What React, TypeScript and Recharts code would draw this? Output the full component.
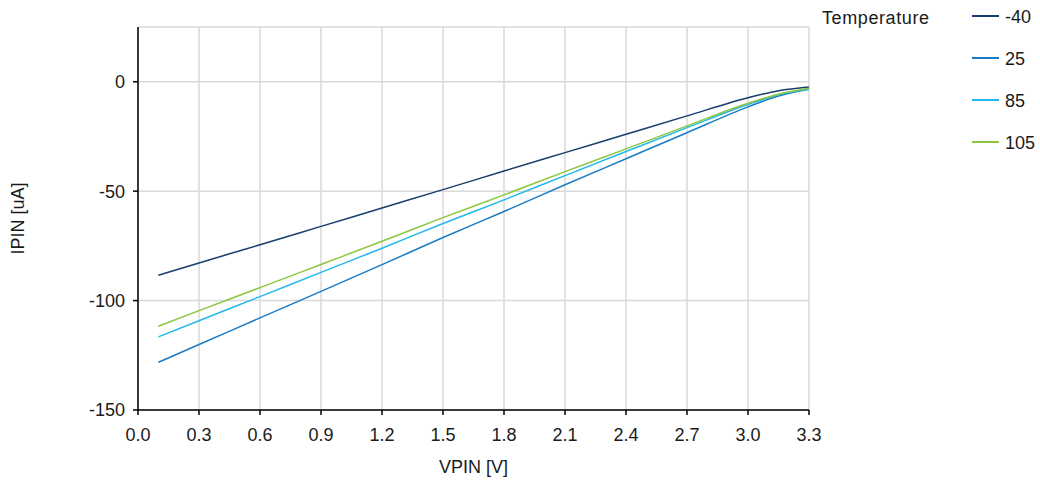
import { LineChart, Line, XAxis, YAxis, CartesianGrid, Legend } from "recharts";

// VPIN sweep [V]
const vpin = [0.1, 0.3, 0.6, 0.9, 1.2, 1.5, 1.8, 2.1, 2.4, 2.7, 3.0, 3.15, 3.3];

// IPIN [uA] per temperature
const ipinM40 = [-88.4, -82.8, -74.5, -66.1, -57.7, -49.3, -40.8, -32.4, -24.0, -15.6, -7.3, -4.1, -2.4];
const ipin25 = [-128.2, -120.1, -107.9, -95.8, -83.6, -71.2, -59.3, -47.1, -35.2, -23.3, -11.5, -6.5, -3.4];
const ipin85 = [-116.6, -109.2, -98.2, -87.1, -76.1, -64.8, -54.0, -42.9, -31.9, -21.0, -10.4, -6.0, -3.3];
const ipin105 = [-111.7, -104.6, -94.1, -83.5, -72.9, -62.1, -51.7, -41.1, -30.7, -20.2, -9.8, -5.7, -3.0];

const xTicks = [0, 0.3, 0.6, 0.9, 1.2, 1.5, 1.8, 2.1, 2.4, 2.7, 3.0, 3.3];
const yTicks = [-150, -100, -50, 0];

const SERIES = [
  { key: "t_m40", name: "-40", values: ipinM40, color: "#173d6c" },
  { key: "t_25", name: "25", values: ipin25, color: "#1a7bc4" },
  { key: "t_85", name: "85", values: ipin85, color: "#22b8ec" },
  { key: "t_105", name: "105", values: ipin105, color: "#8cc63f" },
];

const data = vpin.map((v, i) => {
  const row: Record<string, number> = { v };
  SERIES.forEach((s) => (row[s.key] = s.values[i]));
  return row;
});

const TEXT = "#1a1a1a";
const FS = 18;

function TempLegend() {
  return (
    <div style={{ position: "relative", width: 220, height: 160, fontSize: FS, color: TEXT }}>
      <div style={{ position: "absolute", left: 2, top: 8, lineHeight: "20px", letterSpacing: 0.6 }}>Temperature</div>
      {SERIES.map((s, i) => (
        <div key={s.key} style={{ position: "absolute", left: 152, top: 16 + i * 42 - 10, height: 20, display: "flex", alignItems: "center" }}>
          <div style={{ width: 27, height: 2, background: s.color }} />
          <span style={{ marginLeft: 6, lineHeight: "20px", position: "relative", top: 1 }}>{s.name}</span>
        </div>
      ))}
    </div>
  );
}

export default function App() {
  return (
    <div style={{ position: "absolute", left: 0, top: 0, fontFamily: "'Liberation Sans', Arial, sans-serif" }}>
      <LineChart width={1040} height={482} data={data} margin={{ top: 27, right: 11, bottom: 12, left: 18 }}>
        <CartesianGrid stroke="#d9d9d9" strokeWidth={1.5} />
        <XAxis
          dataKey="v"
          type="number"
          domain={[0, 3.3]}
          ticks={xTicks}
          tickFormatter={(v: number) => v.toFixed(1)}
          height={60}
          tickSize={5}
          tickMargin={13}
          stroke="#000"
          strokeWidth={1.5}
          tick={{ fontSize: FS, fill: TEXT }}
          label={{ value: "VPIN [V]", position: "insideBottom", offset: -3, fontSize: FS, fill: TEXT }}
        />
        <YAxis
          type="number"
          domain={[-150, 25]}
          ticks={yTicks}
          width={120}
          tickSize={5}
          tickMargin={8}
          stroke="#000"
          strokeWidth={1.5}
          tick={{ fontSize: FS, fill: TEXT }}
          label={{ value: "IPIN [uA]", angle: -90, position: "insideLeft", offset: 0, fontSize: FS, fill: TEXT, style: { textAnchor: "middle" } }}
        />
        <Legend
          layout="vertical"
          align="right"
          verticalAlign="top"
          content={() => <TempLegend />}
          wrapperStyle={{ left: 820, top: 0, width: 220 }}
        />
        {SERIES.map((s) => (
          <Line
            key={s.key}
            dataKey={s.key}
            name={s.name}
            type="monotone"
            stroke={s.color}
            strokeWidth={1.5}
            dot={false}
            isAnimationActive={false}
          />
        ))}
      </LineChart>
    </div>
  );
}
